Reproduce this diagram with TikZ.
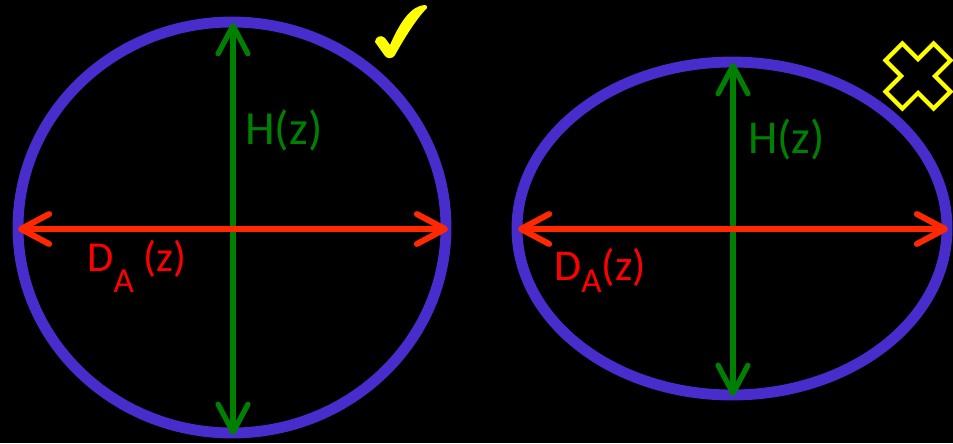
\documentclass[tikz,border=0pt]{standalone}
\usepackage{fontspec}
\setmainfont{Carlito}
\usetikzlibrary{arrows.meta}
\definecolor{ringblue}{RGB}{73,45,204}
\definecolor{hgreen}{RGB}{0,128,0}
\definecolor{dred}{RGB}{255,40,0}
\definecolor{dtext}{RGB}{255,0,0}
\definecolor{markyellow}{RGB}{255,255,0}
\newcommand\dsub[2]{\raisebox{#1}{\fontsize{20}{23}\selectfont #2}}

\begin{document}
\begin{tikzpicture}[x=0.02cm,y=-0.02cm,
  ring/.style={draw=ringblue,line width=6.2pt},
  barb/.tip={Straight Barb[length=16pt,width=17pt,round]},
  haxis/.style={hgreen,line width=3pt,barb-barb},
  daxis/.style={dred,line width=3.4pt,barb-barb},
  lbl/.style={anchor=base west,inner sep=0pt}]
  \fill[black] (0,0) rectangle (953,443);
  \coordinate (L) at (232,227.5);
  \coordinate (R) at (732,228.5);
  \draw[ring] (L) ellipse [x radius=214,y radius=205.5];
  \draw[ring] (R) ellipse [x radius=215,y radius=166.5];
  \coordinate (Lt) at (233,23);
  \coordinate (Lb) at (233,435);
  \coordinate (Lw) at (18,229);
  \coordinate (Le) at (448,229);
  \coordinate (Rt) at (733,63);
  \coordinate (Rb) at (733,396);
  \coordinate (Rw) at (518,229);
  \coordinate (Re) at (948,229);
  \draw[haxis] (Lb) -- (Lt);
  \draw[haxis] (Rb) -- (Rt);
  \draw[daxis] (Lw) -- (Le);
  \draw[daxis] (Rw) -- (Re);
  \node[lbl,hgreen,font=\fontsize{27}{31}\selectfont] (hleft) at (245,144) {H(z)};
  \node[lbl,hgreen,font=\fontsize{26.8}{31}\selectfont] (hright) at (748,153) {H(z)};
  \node[lbl,dtext,font=\fontsize{24.3}{28}\selectfont] (dleft) at (87,271) {D\dsub{-12.5pt}{A} (z)};
  \node[lbl,dtext,font=\fontsize{25}{29}\selectfont] (dright) at (554,280) {D\dsub{-7pt}{A}(z)};
  \fill[markyellow] (375,42) .. controls (375,37) and (381,34) .. (385,38) -- (390,45)
    .. controls (397,29) and (407,10) .. (420,6) .. controls (423,5) and (428,4) .. (427,8)
    .. controls (417,18) and (405,37) .. (395,55) .. controls (393,59) and (387,59) .. (385,56) -- cycle;
  \draw[markyellow,line width=2.4pt,miter limit=10,shift={(918,76)},rotate=45]
    (-12,-34) -- (12,-34) -- (12,-12) -- (34,-12) -- (34,12) -- (12,12) -- (12,34)
    -- (-12,34) -- (-12,12) -- (-34,12) -- (-34,-12) -- (-12,-12) -- cycle;
\end{tikzpicture}
\end{document}
